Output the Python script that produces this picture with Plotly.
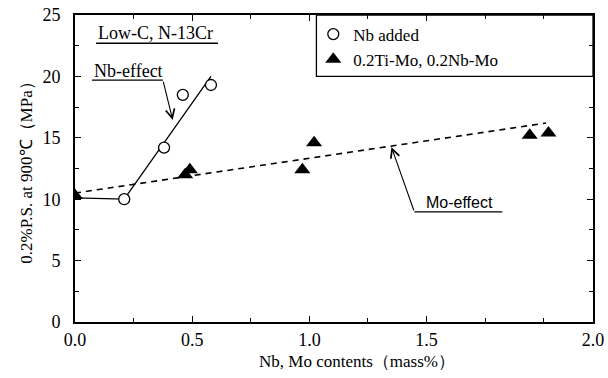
import plotly.graph_objects as go

# ---- data ----
nb_x = [0.21, 0.38, 0.46, 0.58]
nb_y = [10.0, 14.2, 18.5, 19.3]
mo_x = [0.0, 0.47, 0.49, 0.97, 1.02, 1.94, 2.02]
mo_y = [10.3, 12.0, 12.4, 12.4, 14.6, 15.2, 15.4]

nb_fit_x = [0.0, 0.21, 0.58]
nb_fit_y = [10.1, 10.0, 20.0]
mo_fit_x = [0.0, 2.01]
mo_fit_y = [10.5, 16.2]

x_tick_vals = [0.0, 0.5, 1.0, 1.5, 2.21]
x_tick_text = ["0.0", "0.5", "1.0", "1.5", "2.0"]
x_minor_vals = [0.25, 0.75, 1.25, 1.75, 2.0]
y_tick_vals = [0, 5, 10, 15, 20, 25]
y_minor_vals = [2.5, 7.5, 12.5, 17.5, 22.5]

x_title = "Nb, Mo contents（mass%）"
y_title = "0.2%P.S. at 900℃（MPa）"

FONT = "Times New Roman, Liberation Serif, serif"
SANS = "Arial, Liberation Sans, sans-serif"

fig = go.Figure()
fig.add_trace(go.Scatter(x=nb_fit_x, y=nb_fit_y, mode="lines",
                         line=dict(color="black", width=1.3), showlegend=False))
fig.add_trace(go.Scatter(x=mo_fit_x, y=mo_fit_y, mode="lines",
                         line=dict(color="black", width=1.6, dash="6px,5px"), showlegend=False))
fig.add_trace(go.Scatter(x=nb_x, y=nb_y, mode="markers", name="Nb added",
                         marker=dict(symbol="circle", size=11, color="white",
                                     line=dict(color="black", width=1.3))))
fig.add_trace(go.Scatter(x=mo_x, y=mo_y, mode="markers", name="0.2Ti-Mo, 0.2Nb-Mo",
                         marker=dict(symbol="triangle-up", size=14, color="black",
                                     line=dict(color="black", width=0))))

# legend box
fig.add_shape(type="rect", xref="x", yref="y", x0=1.03, x1=2.21, y0=20.0, y1=25,
              line=dict(color="black", width=1.3), fillcolor="rgba(0,0,0,0)")

# text labels with underlines and leader arrows
fig.add_annotation(x=0.345, y=23.5, xref="x", yref="y", text="Low-C, N-13Cr",
                   showarrow=False, font=dict(family=FONT, size=18, color="black"))
fig.add_shape(type="line", xref="x", yref="y", x0=0.09, x1=0.61, y0=22.7, y1=22.7,
              line=dict(color="black", width=1.3))

fig.add_annotation(x=0.23, y=20.4, xref="x", yref="y", text="Nb-effect",
                   showarrow=False, font=dict(family=FONT, size=18, color="black"))
fig.add_shape(type="line", xref="x", yref="y", x0=0.072, x1=0.375, y0=19.7, y1=19.7,
              line=dict(color="black", width=1.3))
fig.add_annotation(x=0.417, y=16.45, ax=0.375, ay=19.7, xref="x", yref="y",
                   axref="x", ayref="y", text="", showarrow=True, arrowhead=5,
                   arrowsize=1.6, arrowwidth=1.1, arrowcolor="black", standoff=0)

fig.add_annotation(x=1.64, y=9.75, xref="x", yref="y", text="Mo-effect",
                   showarrow=False, font=dict(family=SANS, size=16, color="black"))
fig.add_shape(type="line", xref="x", yref="y", x0=1.448, x1=1.823, y0=8.96, y1=8.96,
              line=dict(color="black", width=1.3))
fig.add_annotation(x=1.35, y=14.25, ax=1.448, ay=8.96, xref="x", yref="y",
                   axref="x", ayref="y", text="", showarrow=True, arrowhead=5,
                   arrowsize=1.6, arrowwidth=1.1, arrowcolor="black", standoff=0)

# x-axis title (placed slightly right of centre, as in the original)
fig.add_annotation(x=0.545, y=-0.092, xref="paper", yref="paper", text=x_title,
                   showarrow=False, xanchor="center", yanchor="top",
                   font=dict(family=FONT, size=17, color="black"))

axis_common = dict(showline=True, linecolor="black", linewidth=1.6, mirror="allticks",
                   ticks="inside", ticklen=6, tickwidth=1.3, tickcolor="black",
                   showgrid=False, zeroline=False, automargin=False,
                   tickfont=dict(family=FONT, size=18, color="black"))

fig.update_xaxes(range=[0, 2.21], tickmode="array", tickvals=x_tick_vals, ticktext=x_tick_text,
                 minor=dict(tickmode="array", tickvals=x_minor_vals, ticks="inside",
                            ticklen=4, tickcolor="black", tickwidth=1),
                 ticklabelstandoff=1,
                 **axis_common)
fig.update_yaxes(range=[0, 25], tickmode="array", tickvals=y_tick_vals,
                 minor=dict(tickmode="array", tickvals=y_minor_vals, ticks="inside",
                            ticklen=4, tickcolor="black", tickwidth=1),
                 ticklabelstandoff=9,
                 title=dict(text=y_title, standoff=6,
                            font=dict(family=FONT, size=17, color="black")),
                 **axis_common)

fig.update_layout(
    width=608, height=378,
    margin=dict(l=75, r=15, t=15, b=56),
    plot_bgcolor="white", paper_bgcolor="white",
    font=dict(family=FONT, size=17, color="black"),
    legend=dict(x=0.46, y=0.995, xanchor="left", yanchor="top",
                bgcolor="rgba(0,0,0,0)", borderwidth=0, itemwidth=30,
                font=dict(family=FONT, size=17, color="black"),
                tracegroupgap=0),
)

fig.write_html("out.html")
